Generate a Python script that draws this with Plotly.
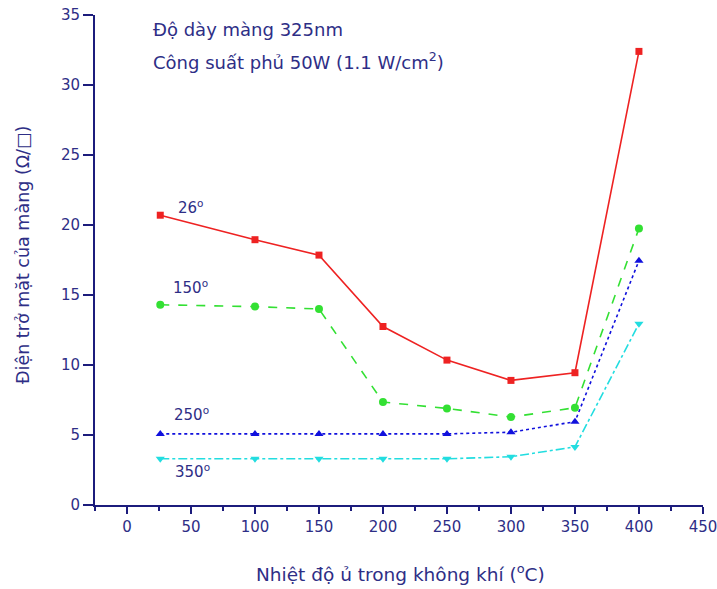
import plotly.graph_objects as go

# Annealing temperature (°C) and sheet resistance (Ω/□) per substrate temperature
temps = [26, 100, 150, 200, 250, 300, 350, 400]
r_26 = [20.7, 18.95, 17.85, 12.75, 10.35, 8.9, 9.45, 32.4]
r_150 = [14.3, 14.17, 14.0, 7.35, 6.9, 6.28, 6.95, 19.75]
r_250 = [5.08, 5.08, 5.08, 5.08, 5.08, 5.2, 5.95, 17.45]
r_350 = [3.3, 3.3, 3.3, 3.3, 3.3, 3.45, 4.15, 12.95]

series_names = ["26<sup>o</sup>", "150<sup>o</sup>", "250<sup>o</sup>", "350<sup>o</sup>"]
label_pos = [(38, 21.3), (34, 15.6), (35.5, 6.5), (36, 2.4)]

navy = "#1c1c7c"
text_col = "#2e2e86"
font_family = "DejaVu Sans, Verdana, sans-serif"

styles = [
    dict(color="#ee2222", dash="solid", symbol="square", size=7),
    dict(color="#33e033", dash="dash", symbol="circle", size=8),
    dict(color="#1010dd", dash="dot", symbol="triangle-up", size=8),
    dict(color="#22dde0", dash="dashdot", symbol="triangle-down", size=8),
]

fig = go.Figure()
for name, vals, st in zip(series_names, [r_26, r_150, r_250, r_350], styles):
    fig.add_trace(go.Scatter(
        x=temps, y=vals, mode="lines+markers", name=name,
        line=dict(color=st["color"], width=1.6, dash=st["dash"]),
        marker=dict(color=st["color"], symbol=st["symbol"], size=st["size"]),
        showlegend=False,
    ))

annotations = []
for name, (lx, ly) in zip(series_names, label_pos):
    annotations.append(dict(x=lx, y=ly, xref="x", yref="y", text=name, showarrow=False,
                            xanchor="left", yanchor="middle",
                            font=dict(size=15, color=text_col, family=font_family)))

annotations += [
    dict(x=19, y=34.0, xref="x", yref="y", text="Độ dày màng 325nm", showarrow=False,
         xanchor="left", yanchor="middle", font=dict(size=18, color=text_col, family=font_family)),
    dict(x=19, y=31.7, xref="x", yref="y", text="Công suất phủ 50W (1.1 W/cm<sup>2</sup>)",
         showarrow=False, xanchor="left", yanchor="middle",
         font=dict(size=18, color=text_col, family=font_family)),
    dict(x=400, y=573, xref="paper", yref="paper", text="Nhiệt độ ủ trong không khí (<sup>o</sup>C)",
         showarrow=False, xanchor="center", yanchor="middle",
         font=dict(size=18.5, color=text_col, family=font_family)),
    dict(x=23, y=255, xref="paper", yref="paper", text="Điện trở mặt của màng (Ω/□)",
         showarrow=False, xanchor="center", yanchor="middle", textangle=-90,
         font=dict(size=17.5, color=text_col, family=font_family)),
]

# convert the pixel-placed axis titles to paper coordinates
W, H = 717, 589
L, R, T, B = 95, 14, 15, 84
pw, ph = W - L - R, H - T - B
for a in annotations[-2:]:
    a["x"] = (a["x"] - L) / pw
    a["y"] = (H - B - a["y"]) / ph

fig.update_layout(
    width=W, height=H,
    margin=dict(l=L, r=R, t=T, b=B),
    paper_bgcolor="white", plot_bgcolor="white",
    font=dict(family=font_family, color=text_col),
    annotations=annotations,
    xaxis=dict(range=[-25, 450.05], tickvals=[0, 50, 100, 150, 200, 250, 300, 350, 400, 450],
               automargin=False, ticklabeloverflow="allow",
               showgrid=False, zeroline=False, showline=True, linecolor=navy, linewidth=2,
               ticks="outside", ticklen=7, tickwidth=2, tickcolor=navy,
               tickfont=dict(size=15, color=text_col),
               minor=dict(tickvals=[-25, 25, 75, 125, 175, 225, 275, 325, 375, 425],
                          ticks="outside", ticklen=4, tickwidth=2, tickcolor=navy)),
    yaxis=dict(range=[0, 35], dtick=5, showgrid=False, zeroline=False, showline=True,
               automargin=False,
               linecolor=navy, linewidth=2, ticks="outside", ticklen=10, tickwidth=2,
               tickcolor=navy, tickfont=dict(size=15, color=text_col)),
)

fig.write_html("out.html")
